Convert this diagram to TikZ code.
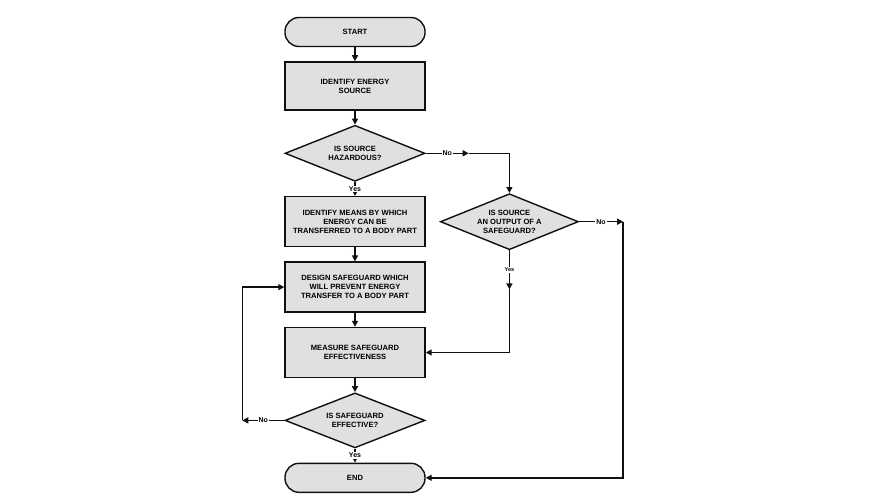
\documentclass[tikz,border=0pt]{standalone}
\usepackage{fontspec}
\setmainfont{Liberation Sans}
\usepackage{tikz}
\usetikzlibrary{arrows.meta,calc,positioning,shapes.geometric}
\definecolor{g}{HTML}{E0E0E0}
\definecolor{k}{HTML}{101010}

\begin{document}
\begin{tikzpicture}[font=\bfseries\fontsize{7.6}{9}\selectfont,node distance=14pt,
  term/.style={draw=k,line width=1.4pt,rounded corners=14pt,fill=g,
    align=center,minimum width=140pt,minimum height=29pt,inner sep=0pt},
  block/.style={draw=k,line width=1.4pt,fill=g,
    align=center,minimum width=140pt,minimum height=50pt,inner sep=0pt},
  ask/.style={draw=k,line width=1.4pt,fill=g,diamond,shape aspect=2.5,
    align=center,minimum width=140pt,minimum height=56pt,inner sep=0pt},
  lbl/.style={fill=white,inner sep=1pt,font=\bfseries\fontsize{7}{7.5}\selectfont},
  arr/.style={-{Triangle[length=6pt,width=6pt]},line width=1.4pt,draw=k}]
  \path[use as bounding box] (0,0) rectangle (875pt,-498pt);
  \node[term] (start) at (355pt,-32pt) {START};
  \node[block,below=of start,minimum height=48pt] (source) {IDENTIFY ENERGY\\SOURCE};
  \node[ask,below=of source] (hazard) {IS SOURCE\\HAZARDOUS?};
  \node[block,below=of hazard] (means) {IDENTIFY MEANS BY WHICH\\ENERGY CAN BE\\TRANSFERRED TO A BODY PART};
  \node[block,below=of means] (design) {DESIGN SAFEGUARD WHICH\\WILL PREVENT ENERGY\\TRANSFER TO A BODY PART};
  \node[block,below=of design] (measure) {MEASURE SAFEGUARD\\EFFECTIVENESS};
  \node[ask,below=of measure,minimum height=55pt] (effective) {IS SAFEGUARD\\EFFECTIVE?};
  \node[term,below=of effective] (end) {END};
  \node[ask,right=of means,minimum width=138pt] (output) {IS SOURCE\\AN OUTPUT OF A\\SAFEGUARD?};
  \coordinate (hazno) at ($(hazard.east)+(43pt,0)$);
  \coordinate (outno) at ($(output.east)+(44pt,0)$);
  \coordinate (outyes) at ($(output.south)+(0,-39pt)$);
  \coordinate (effno) at ($(effective.west)+(-42pt,0)$);
  \draw[arr] (start)--(source); \draw[arr] (source)--(hazard);
  \draw[arr] (hazard)-- node[lbl] {Yes} (means);
  \draw[arr] (means)--(design); \draw[arr] (design)--(measure);
  \draw[arr] (measure)--(effective);
  \draw[arr] (effective)-- node[lbl] {Yes} (end);
  \draw[arr] (hazard.east)-- node[lbl] {No} (hazno);
  \draw[arr] (hazno) -| (output.north);
  \draw[arr] (output.south)-- node[lbl,font=\bfseries\fontsize{5.5}{6}\selectfont] {Yes} (outyes);
  \draw[arr] (outyes) |- (measure.east);
  \draw[arr] (output.east)-- node[lbl] {No} (outno);
  \draw[arr] (outno) |- (end.east);
  \draw[arr] (effective.west)-- node[lbl] {No} (effno);
  \draw[arr] (effno) |- (design.west);
\end{tikzpicture}
\end{document}
